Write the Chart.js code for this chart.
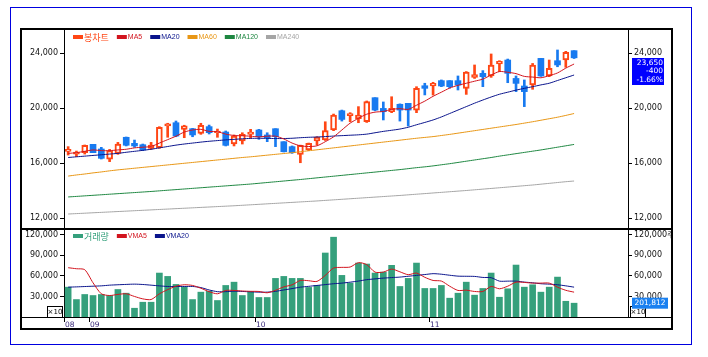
<!DOCTYPE html>
<html><head><meta charset="utf-8">
<script src="https://cdn.jsdelivr.net/npm/chart.js@4/dist/chart.umd.min.js"></script>
<style>
html,body{margin:0;padding:0;background:#fff;width:708px;height:357px;overflow:hidden;position:relative}
#outer{position:absolute;left:10px;top:7px;width:682px;height:338px;border:1.5px solid #0000e0;box-sizing:border-box}
#frame{position:absolute;left:20px;top:28px;width:653px;height:302px;border:2px solid #000;box-sizing:border-box}
.hl{position:absolute;background:#000}
canvas{position:absolute;left:0;top:0}
.wrap{position:absolute}
</style></head><body>
<div id="outer"></div>
<div id="frame"></div>
<div class="hl" style="left:22px;top:228px;width:649px;height:2px"></div>
<div class="hl" style="left:22px;top:317px;width:649px;height:1px"></div>
<div class="wrap" style="left:22px;top:30px;width:649px;height:198px"><canvas id="pc" width="649" height="198"></canvas></div>
<div class="wrap" style="left:22px;top:230px;width:649px;height:99px"><canvas id="vc" width="649" height="99"></canvas></div>
<script>
// ---------------- DATA ----------------
const openP  = [16850,16650,16750,17360,17020,16270,16700,17870,17430,17330,17065,17115,18690,18930,18450,18495,18160,18645,18200,18255,17380,17600,18085,18400,18040,18495,17550,17190,16630,16945,17600,17670,18400,19800,19450,19220,19000,20750,19970,19730,20270,20340,19850,21620,21600,21990,21990,21990,21430,22230,22520,22330,23200,23490,22150,21600,21670,23610,22330,23440,23490,24170];
const highP  = [17190,16870,17310,17360,17140,16990,17500,17890,17670,17380,17500,18640,18890,19055,18745,18520,18890,18760,18470,18330,18040,18200,18450,18450,18200,18495,17550,17240,17300,17450,17915,19000,19560,19850,19660,20100,20510,20750,20440,20820,20300,20340,21550,21800,21870,22040,21990,22330,22650,23130,22720,23930,23440,23560,22330,22040,23240,23610,23490,24220,24120,24170];
const lowP   = [16580,16460,16650,16750,16290,16100,16630,17240,17140,16900,16990,17070,17870,17910,17840,17910,18085,18110,17870,17240,17240,17380,17790,17720,17550,17190,16800,16700,16020,16900,17310,17640,18350,19050,19000,18930,18950,19800,19130,19660,19050,18690,19660,20950,20940,21550,21450,21310,20990,22150,21550,22230,22640,21840,21190,20100,21360,22300,22280,23000,22960,23600];
const closeP = [16990,16800,17285,16750,16340,16900,17380,17290,17240,16950,17310,18590,18840,17960,18700,18040,18740,18205,18330,17285,17960,18085,18255,17915,17840,17915,16820,16750,17285,17430,17870,18350,19480,19170,19600,19490,20460,19850,19730,19970,19850,19850,21430,21430,21790,21600,21550,21670,22620,22430,22280,23130,23400,22520,21790,21190,23130,22330,22880,23130,24050,23650];
const ma5    = [16700,16750,16850,16950,16900,16900,16950,17000,17100,17150,17200,17450,17700,17950,18250,18400,18450,18300,18280,18100,18000,17980,17950,17900,17950,17950,17750,17450,17250,17200,17250,17550,17900,18400,18900,19250,19550,19700,19750,19900,19950,19900,20200,20500,20850,21150,21450,21650,21800,21950,22100,22400,22650,22600,22500,22300,22250,22200,22350,22550,22900,23200];
const ma20   = [16400,16450,16500,16550,16600,16650,16700,16780,16850,16920,17000,17100,17200,17300,17380,17450,17520,17580,17630,17680,17720,17760,17790,17800,17790,17780,17780,17800,17840,17870,17890,17920,17960,17990,18020,18050,18100,18200,18300,18380,18470,18600,18780,18950,19130,19350,19600,19850,20100,20350,20580,20800,21000,21150,21300,21430,21550,21680,21800,22000,22200,22400];
const ma60   = [15050,15130,15200,15280,15350,15430,15500,15560,15620,15680,15740,15800,15860,15920,15980,16040,16100,16160,16220,16280,16340,16400,16450,16510,16570,16630,16690,16750,16820,16890,16960,17030,17100,17170,17240,17310,17380,17450,17520,17590,17660,17730,17800,17860,17920,18000,18080,18170,18260,18350,18440,18530,18620,18710,18800,18900,19000,19110,19220,19330,19460,19600];
const ma120  = [13530,13570,13610,13650,13690,13730,13770,13810,13850,13890,13930,13975,14020,14065,14110,14155,14200,14245,14290,14335,14380,14425,14470,14525,14580,14635,14690,14745,14800,14860,14920,14980,15040,15100,15160,15220,15280,15340,15400,15460,15520,15590,15660,15720,15790,15870,15950,16040,16130,16220,16310,16400,16500,16590,16680,16770,16860,16950,17050,17150,17250,17350];
const ma240  = [12290,12320,12350,12380,12410,12440,12470,12500,12530,12560,12590,12620,12650,12680,12710,12740,12770,12800,12830,12860,12890,12925,12960,12995,13030,13065,13100,13135,13170,13205,13240,13280,13320,13360,13400,13440,13480,13520,13560,13600,13640,13685,13730,13775,13820,13865,13910,13955,14000,14050,14100,14150,14200,14250,14300,14350,14400,14460,14520,14580,14640,14690];
const volume = [43600,25500,32900,31400,32900,31400,40200,34800,12800,21600,21600,64200,59300,47600,43600,25500,36300,37700,24100,46100,50900,31400,37300,28500,28500,56400,59300,56400,56400,43200,46100,93500,116600,60800,49500,78800,77400,64200,65600,75500,44600,56400,78800,41700,41700,46100,27500,34800,50900,31900,41700,64200,28900,41200,75900,43600,47100,36300,43600,58300,23000,20181];
const vma5   = [72000,70500,69100,50000,33900,31400,33000,33900,30000,26500,25500,33900,40000,45000,47100,46100,42000,37000,33900,38800,38800,38000,37500,37300,35400,39000,44000,47000,53400,53000,52000,60800,71500,72500,73000,79400,76500,65600,65600,70000,66000,61800,64200,58000,53400,52500,45000,38800,39200,37300,37300,44600,41200,45000,50900,50500,49500,49500,49500,43600,39000,36300];
const vma20  = [43600,44000,44500,45000,45500,46500,47100,47600,48000,47500,46500,45500,44600,44600,44600,44600,43000,39500,37000,37000,37700,37300,36800,36300,36300,37500,39500,41500,43600,44800,46100,47300,48600,49500,50900,52500,54500,55700,56800,57600,58300,59500,60800,62000,63300,62500,61000,59700,59500,59300,57800,57400,52400,52400,52400,51000,50000,48600,48000,47100,45500,43600];
const priceTicks = [12000,16000,20000,24000];
const volTicks   = [30000,60000,90000,120000];
const monthLabels = ['08','09','10','11'];
const monthStart  = [0,3,23,44];
const emptySlots  = 6;
const lastChange = -400;
const lastChangePct = -1.66;
const lastVolumeText = '201,812';
const volUnit = '×10';
const priceLegend = ['봉차트','MA5','MA20','MA60','MA120','MA240'];
const volLegend = ['거래량','VMA5','VMA20'];

// ---------------- STYLE ----------------
const UP='rgb(255,70,20)', DOWN='rgb(24,122,240)';
const C_MA5='rgb(210,20,30)', C_MA20='rgb(10,20,140)', C_MA60='rgb(232,150,20)', C_MA120='rgb(30,135,65)', C_MA240='rgb(165,165,165)';
const C_VOL='rgb(53,160,124)';
const FONT='DejaVu Sans';
const P_MIN=11273, P_MAX=25673, V_MIN=0, V_MAX=127100;

const n = closeP.length;
const slots = Array.from({length:n+emptySlots},(_,i)=>String(i));
const isUp = closeP.map((c,i)=>c>=openP[i]);
const fmt = v => Math.round(v).toLocaleString('en-US');

function yAxis(pos, mn, mx, ticks, w, extra){
  return {
    position:pos, min:mn, max:mx,
    afterFit(s){ s.width=w; s.paddingTop=0; s.paddingBottom=0; },
    afterBuildTicks(s){ s.ticks = ticks.map(v=>({value:v})); },
    ticks:{ font:{family:FONT,size:8}, color:'#111', padding:2, callback:(v,i)=>fmt(v)+(extra&&i===ticks.length-1?extra:'') },
    grid:{ drawOnChartArea:false, tickLength:4, color:'#000', tickColor:'#000' },
    border:{ color:'#000', width:1 }
  };
}
function lineDS(data,color,yid){
  return {type:'line', data, borderColor:color, borderWidth:1, pointRadius:0, tension:0.25, order:1, yAxisID:yid};
}
function drawLegend(ctx, names, colors, x0, y){
  let x=x0;
  names.forEach((nm,i)=>{
    ctx.fillStyle=colors[i];
    ctx.fillRect(x, y-2, 10, 4);
    x+=11;
    ctx.font = (i===0 ? '9px "Noto Sans CJK KR"' : '7px "Liberation Sans"');
    ctx.textBaseline='middle'; ctx.textAlign='left';
    ctx.fillStyle = colors[i];
    ctx.fillText(nm, x, y+0.5);
    x += ctx.measureText(nm).width + 8;
  });
}

const pricePlugin = {
  id:'priceExtras',
  afterDraw(chart){
    const ctx=chart.ctx, ca=chart.chartArea, yR=chart.scales.yR;
    drawLegend(ctx, priceLegend, [UP,C_MA5,C_MA20,C_MA60,C_MA120,C_MA240], ca.left+9, ca.top+7);
    const last = closeP[n-1];
    const yy = Math.round(yR.getPixelForValue(last));
    const x0 = ca.right+4;
    ctx.fillStyle='#0000ff';
    ctx.fillRect(x0, yy, 32, 27);
    ctx.fillStyle='#fff'; ctx.font='7.5px "DejaVu Sans"'; ctx.textAlign='right'; ctx.textBaseline='middle';
    ctx.fillText(fmt(last), x0+31, yy+5);
    ctx.fillText(String(lastChange), x0+31, yy+13.5);
    ctx.fillText(lastChangePct.toFixed(2)+'%', x0+31, yy+22);
  }
};
const volPlugin = {
  id:'volExtras',
  afterDraw(chart){
    const ctx=chart.ctx, ca=chart.chartArea, xs=chart.scales.x, yR=chart.scales.yR;
    drawLegend(ctx, volLegend, [C_VOL,C_MA5,C_MA20], ca.left+9, ca.top+6);
    ctx.font='7px "DejaVu Sans"'; ctx.textBaseline='middle'; ctx.textAlign='center';
    [ca.left-17, ca.right+2].forEach(bx=>{
      ctx.fillStyle='#fff'; ctx.fillRect(bx, ca.bottom-11, 16, 11);
      ctx.strokeStyle='#000'; ctx.lineWidth=1; ctx.strokeRect(bx+0.5, ca.bottom-10.5, 15, 11);
      ctx.fillStyle='#000'; ctx.fillText(volUnit, bx+8, ca.bottom-5);
    });
    const yy = yR.getPixelForValue(volume[n-1]);
    ctx.fillStyle='rgb(26,128,240)';
    ctx.fillRect(ca.right+4, yy-5.5, 36, 11);
    ctx.fillStyle='#fff'; ctx.font='7.5px "DejaVu Sans"'; ctx.textAlign='center';
    ctx.fillText(lastVolumeText, ca.right+22, yy);
    const half = (xs.getPixelForValue(1)-xs.getPixelForValue(0))/2;
    ctx.strokeStyle='#000'; ctx.lineWidth=1;
    ctx.font='7.5px "DejaVu Sans"'; ctx.textAlign='left'; ctx.fillStyle='#3a2a7a';
    monthStart.forEach((idx,k)=>{
      const px = Math.round(xs.getPixelForValue(idx)-half)+0.5;
      ctx.beginPath(); ctx.moveTo(px, ca.bottom); ctx.lineTo(px, ca.bottom+5); ctx.stroke();
      ctx.fillText(monthLabels[k], px+0.5, ca.bottom+8);
    });
  }
};

Chart.defaults.animation=false;
new Chart(document.getElementById('pc'), {
  type:'bar',
  data:{ labels:slots, datasets:[
    lineDS(ma5,C_MA5,'y'), lineDS(ma20,C_MA20,'y'), lineDS(ma60,C_MA60,'y'), lineDS(ma120,C_MA120,'y'), lineDS(ma240,C_MA240,'y'),
    { type:'bar', data: lowP.map((l,i)=>[l,highP[i]]), backgroundColor: isUp.map(u=>u?UP:DOWN), barThickness:2, grouped:false, order:3, yAxisID:'y', borderSkipped:false },
    { type:'bar', data: openP.map((o,i)=>[o,closeP[i]]), backgroundColor: isUp.map(u=>u?'#fff':DOWN), borderColor: isUp.map(u=>u?UP:DOWN), borderWidth: isUp.map(u=>u?2:0), barThickness:6, grouped:false, order:2, yAxisID:'y', borderSkipped:false }
  ]},
  options:{
    responsive:false, devicePixelRatio:1, animation:false,
    layout:{padding:0},
    plugins:{legend:{display:false}, tooltip:{enabled:false}},
    scales:{
      x:{ type:'category', offset:true, display:false, grid:{display:false} },
      y: yAxis('left', P_MIN, P_MAX, priceTicks, 42),
      yR: yAxis('right', P_MIN, P_MAX, priceTicks, 43)
    }
  },
  plugins:[pricePlugin]
});
new Chart(document.getElementById('vc'), {
  type:'bar',
  data:{ labels:slots, datasets:[
    lineDS(vma5,C_MA5,'y'), lineDS(vma20,C_MA20,'y'),
    { type:'bar', data: volume, backgroundColor:C_VOL, barThickness:6, grouped:false, order:2, yAxisID:'y' }
  ]},
  options:{
    responsive:false, devicePixelRatio:1, animation:false,
    layout:{padding:{top:0,bottom:12,left:0,right:0}},
    plugins:{legend:{display:false}, tooltip:{enabled:false}},
    scales:{
      x:{ type:'category', offset:true, display:false, grid:{display:false} },
      y: yAxis('left', V_MIN, V_MAX, volTicks, 42),
      yR: yAxis('right', V_MIN, V_MAX, volTicks, 43, '주')
    }
  },
  plugins:[volPlugin]
});
</script>
</body></html>
